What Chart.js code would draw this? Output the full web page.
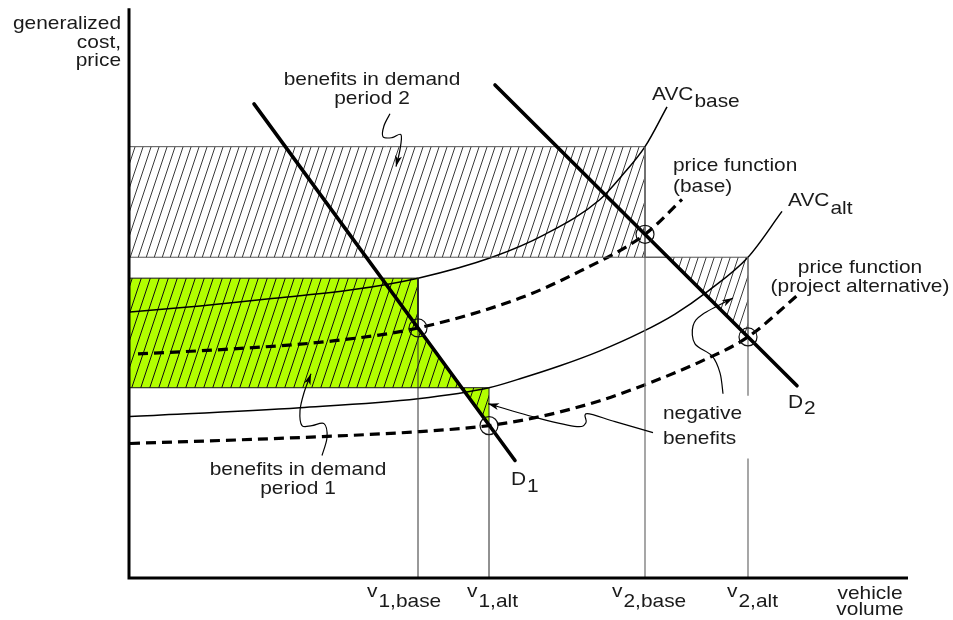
<!DOCTYPE html>
<html>
<head>
<meta charset="utf-8">
<title>Benefits with demand in two periods</title>
<script src="https://cdn.jsdelivr.net/npm/chart.js@4.4.1/dist/chart.umd.min.js"></script>
<style>
  html, body { margin: 0; padding: 0; background: #fff; }
  #wrap { width: 953px; height: 620px; }
</style>
</head>
<body>
<div id="wrap"><canvas id="chart" width="953" height="620"></canvas></div>
<script>
// vehicle volume on x, generalized cost / price on y (schematic units)
const volumes      = [29.0, 36.1, 51.7, 62.0];      // v1,base  v1,alt  v2,base  v2,alt
const volumeSubs   = ['1,base', '1,alt', '2,base', '2,alt'];
const avcAtVolume  = [30.0, 19.0, 43.2, 32.1];       // AVC at each equilibrium volume
const priceAtVolume = [25.0, 15.2, 34.4, 24.1];      // price at each equilibrium

const demand1 = [[12.6, 47.5], [38.7, 11.7]];
const demand2 = [[36.7, 49.4], [66.9, 19.2]];

const avcBase = [[0.2, 26.6], [7.2, 27.2], [13.9, 27.9], [22.2, 28.8], [29.0, 30.0], [36.4, 32.1],
                 [41.7, 34.4], [47.2, 37.9], [49.4, 40.3], [51.7, 43.2], [53.9, 47.2]];
const avcAlt = [[0.2, 16.1], [17.2, 17.0], [29.0, 17.9], [36.1, 19.0], [39.2, 19.9], [43.2, 21.2],
                [47.2, 22.7], [51.2, 24.5], [54.7, 26.4], [58.0, 28.7], [62.0, 32.1], [65.4, 36.7]];
const priceBase = [[1.0, 22.4], [10.5, 22.9], [20.5, 23.7], [29.0, 25.0], [39.2, 28.0], [45.2, 30.7],
                   [51.7, 34.4], [55.4, 37.9]];
const priceAlt = [[0.2, 13.4], [17.2, 14.0], [29.2, 14.6], [36.1, 15.2], [41.2, 16.1], [47.2, 17.7],
                  [52.2, 19.5], [57.2, 21.6], [62.0, 24.1], [67.2, 28.5]];

// leader lines with arrow at the last point
const leaders = [
  [[26.2, 46.5], [25.6, 45.3], [25.5, 44.2], [26.4, 44.1], [27.3, 44.4], [27.2, 42.9], [26.8, 41.2]],
  [[19.4, 12.2], [19.9, 14.0], [19.6, 15.4], [18.4, 15.2], [17.4, 15.2], [17.2, 16.7], [17.6, 18.5], [18.3, 20.4]],
  [[52.5, 14.5], [48.7, 15.6], [45.9, 16.4], [45.8, 15.5], [44.9, 15.1], [41.2, 15.9], [36.0, 17.4]],
  [[59.5, 18.4], [59.2, 20.5], [58.4, 22.2], [56.7, 23.4], [56.5, 25.2], [57.5, 26.4], [60.5, 28.0]]
];

const notes = [
  { lines: ['generalized', 'cost,', 'price'], x: -0.7, y: 55.0, step: 1.85, align: 'right' },
  { lines: ['benefits in demand', 'period 2'], x: 24.4, y: 49.4, step: 1.95, align: 'center' },
  { lines: ['benefits in demand', 'period 1'], x: 17.0, y: 10.2, step: 1.9, align: 'center' },
  { lines: ['price function', '(base)'], x: 54.5, y: 40.8, step: 2.2, align: 'left' },
  { lines: ['price function', '(project alternative)'], x: 73.2, y: 30.5, step: 1.9, align: 'center' },
  { lines: ['negative', 'benefits'], x: 53.5, y: 15.9, step: 2.5, align: 'left' },
  { lines: ['vehicle', 'volume'], x: 74.2, y: -2.2, step: 1.6, align: 'center' }
];
const subNotes = [
  { main: 'AVC', sub: 'base', x: 52.4, y: 47.9, drop: 0.7 },
  { main: 'AVC', sub: 'alt', x: 66.0, y: 37.2, drop: 0.8 },
  { main: 'D', sub: '2', x: 66.0, y: 17.0, drop: 0.6 },
  { main: 'D', sub: '1', x: 38.3, y: 9.2, drop: 0.7 }
];
const volumeLabelX = [23.9, 33.9, 48.4, 59.9];

const FONT = '19px "Liberation Sans", Arial, Helvetica, sans-serif';
const HS = 1.1;   // glyphs in this figure run a little wide

const pts = a => a.map(p => ({ x: p[0], y: p[1] }));
function xOnLine(seg, y) {
  const [[x1, y1], [x2, y2]] = seg;
  return x1 + (y - y1) * (x2 - x1) / (y2 - y1);
}

function hatch(bg, w, h, color, lw) {
  const c = document.createElement('canvas');
  c.width = w; c.height = h;
  const g = c.getContext('2d');
  if (bg) { g.fillStyle = bg; g.fillRect(0, 0, w, h); }
  g.strokeStyle = color; g.lineWidth = lw;
  g.beginPath();
  for (let o = -w; o <= w; o += w) { g.moveTo(o, h); g.lineTo(o + w, 0); }
  g.stroke();
  return g.createPattern(c, 'repeat');
}
const greyHatch = hatch(null, 8, 24, '#222', 0.9);
const greenHatch = hatch('#b2ff00', 9, 27, '#111', 1);

// benefit areas
const v = volumes, c = avcAtVolume, p = priceAtVolume;
const period1Area = [[0, c[0]], [v[0], c[0]], [v[0], p[0]], [xOnLine(demand1, c[1]), c[1]], [v[1], p[1]]];
const period2Area = [[0, c[2]], [v[2], c[2]], [v[2], c[3]], [xOnLine(demand2, c[3]), c[3]], [v[3], p[3]], [v[3], c[3]]];

function line(data, opts) {
  return Object.assign({
    type: 'line', data: pts(data), borderColor: '#000', borderWidth: 1,
    pointRadius: 0, tension: 0, fill: false, order: 2
  }, opts);
}

const datasets = [
  line(period2Area, { borderColor: '#555', backgroundColor: greyHatch, fill: { value: c[3] }, order: 9 }),
  line(period1Area, { borderColor: '#111', backgroundColor: greenHatch, fill: { value: c[1] }, order: 8 }),
  line([[0, c[3]], [v[3], c[3]]], { borderColor: '#555' }),
  line([[0, c[1]], [v[1], c[1]]], { borderColor: '#111' }),
  line([[v[0], 0], [v[0], c[0]]], { borderColor: '#333' }),
  line([[v[1], 0], [v[1], c[1]]], { borderColor: '#222' }),
  line([[v[2], 0], [v[2], c[2]]], { borderColor: '#777', borderWidth: 1.3 }),
  { type: 'line', data: [{ x: v[3], y: c[3] }, { x: v[3], y: 18.2 }, { x: v[3], y: null }, { x: v[3], y: 11.9 }, { x: v[3], y: 0 }],
    borderColor: '#777', borderWidth: 1.3, pointRadius: 0, spanGaps: false, fill: false, order: 2 },
  line(avcBase, { borderWidth: 1.5, tension: 0.4, cubicInterpolationMode: 'monotone' }),
  line(avcAlt, { borderWidth: 1.5, tension: 0.4, cubicInterpolationMode: 'monotone' }),
  line(priceBase, { borderWidth: 3.2, borderDash: [10, 6], tension: 0.4, cubicInterpolationMode: 'monotone' }),
  line(priceAlt, { borderWidth: 3.2, borderDash: [10, 6], tension: 0.4, cubicInterpolationMode: 'monotone' }),
  line(demand1, { borderWidth: 3.6, borderCapStyle: 'round', order: 1 }),
  line(demand2, { borderWidth: 3.6, borderCapStyle: 'round', order: 1 }),
  { type: 'line', data: v.map((x, i) => ({ x, y: p[i] })), showLine: false, pointRadius: 9,
    pointBackgroundColor: 'rgba(0,0,0,0)', pointBorderColor: '#111', pointBorderWidth: 1.2, order: 0 }
];

function wideText(ctx, text, x, y, align) {
  ctx.save();
  ctx.translate(x, y);
  ctx.scale(HS, 1);
  ctx.textAlign = align;
  ctx.fillText(text, 0, 0);
  const w = ctx.measureText(text).width * HS;
  ctx.restore();
  return w;
}

function smoothPath(ctx, q) {
  ctx.moveTo(q[0][0], q[0][1]);
  for (let i = 0; i < q.length - 1; i++) {
    const p0 = q[Math.max(i - 1, 0)], p1 = q[i], p2 = q[i + 1], p3 = q[Math.min(i + 2, q.length - 1)];
    ctx.bezierCurveTo(p1[0] + (p2[0] - p0[0]) / 6, p1[1] + (p2[1] - p0[1]) / 6,
                      p2[0] - (p3[0] - p1[0]) / 6, p2[1] - (p3[1] - p1[1]) / 6, p2[0], p2[1]);
  }
}

const figure = {
  id: 'figure',
  afterDatasetsDraw(chart) {
    const { ctx, chartArea: a, scales: { x, y } } = chart;
    const px = d => [x.getPixelForValue(d[0]), y.getPixelForValue(d[1])];

    // axes
    ctx.save();
    ctx.strokeStyle = '#000';
    ctx.lineWidth = 3;
    ctx.beginPath();
    ctx.moveTo(a.left + 1, a.top - 2);
    ctx.lineTo(a.left + 1, a.bottom + 1.5);
    ctx.moveTo(a.left - 0.5, a.bottom + 1);
    ctx.lineTo(a.right, a.bottom + 1);
    ctx.stroke();

    // leaders
    ctx.lineWidth = 1.2;
    ctx.fillStyle = '#000';
    leaders.forEach(l => {
      const q = l.map(px);
      ctx.beginPath();
      smoothPath(ctx, q);
      ctx.stroke();
      const e = q[q.length - 1], b = q[q.length - 2];
      const ang = Math.atan2(e[1] - b[1], e[0] - b[0]);
      ctx.save();
      ctx.translate(e[0], e[1]);
      ctx.rotate(ang);
      ctx.beginPath();
      ctx.moveTo(0, 0);
      ctx.lineTo(-11, -3.5);
      ctx.lineTo(-8, 0);
      ctx.lineTo(-11, 3.5);
      ctx.closePath();
      ctx.fill();
      ctx.restore();
    });

    // text
    ctx.font = FONT;
    ctx.fillStyle = '#1a1a1a';
    ctx.textBaseline = 'alphabetic';
    notes.forEach(n => {
      n.lines.forEach((t, i) => {
        wideText(ctx, t, x.getPixelForValue(n.x), y.getPixelForValue(n.y - i * n.step), n.align);
      });
    });
    subNotes.forEach(n => {
      const x0 = x.getPixelForValue(n.x);
      const w = wideText(ctx, n.main, x0, y.getPixelForValue(n.y), 'left');
      wideText(ctx, n.sub, x0 + w + 1, y.getPixelForValue(n.y - n.drop), 'left');
    });
    volumeSubs.forEach((s, i) => {
      const x0 = x.getPixelForValue(volumeLabelX[i]);
      const w = wideText(ctx, 'v', x0, y.getPixelForValue(-2.0), 'left');
      wideText(ctx, s, x0 + w + 1, y.getPixelForValue(-3.0), 'left');
    });
    ctx.restore();
  }
};

new Chart(document.getElementById('chart'), {
  type: 'line',
  data: { datasets },
  options: {
    responsive: false,
    animation: false,
    events: [],
    layout: { padding: { left: 128, right: 45, top: 8, bottom: 43 } },
    scales: {
      x: { type: 'linear', min: 0, max: 78, display: false },
      y: { type: 'linear', min: 0, max: 56.9, display: false }
    },
    plugins: {
      legend: { display: false },
      tooltip: { enabled: false },
      filler: { propagate: false }
    }
  },
  plugins: [figure]
});
</script>
</body>
</html>
